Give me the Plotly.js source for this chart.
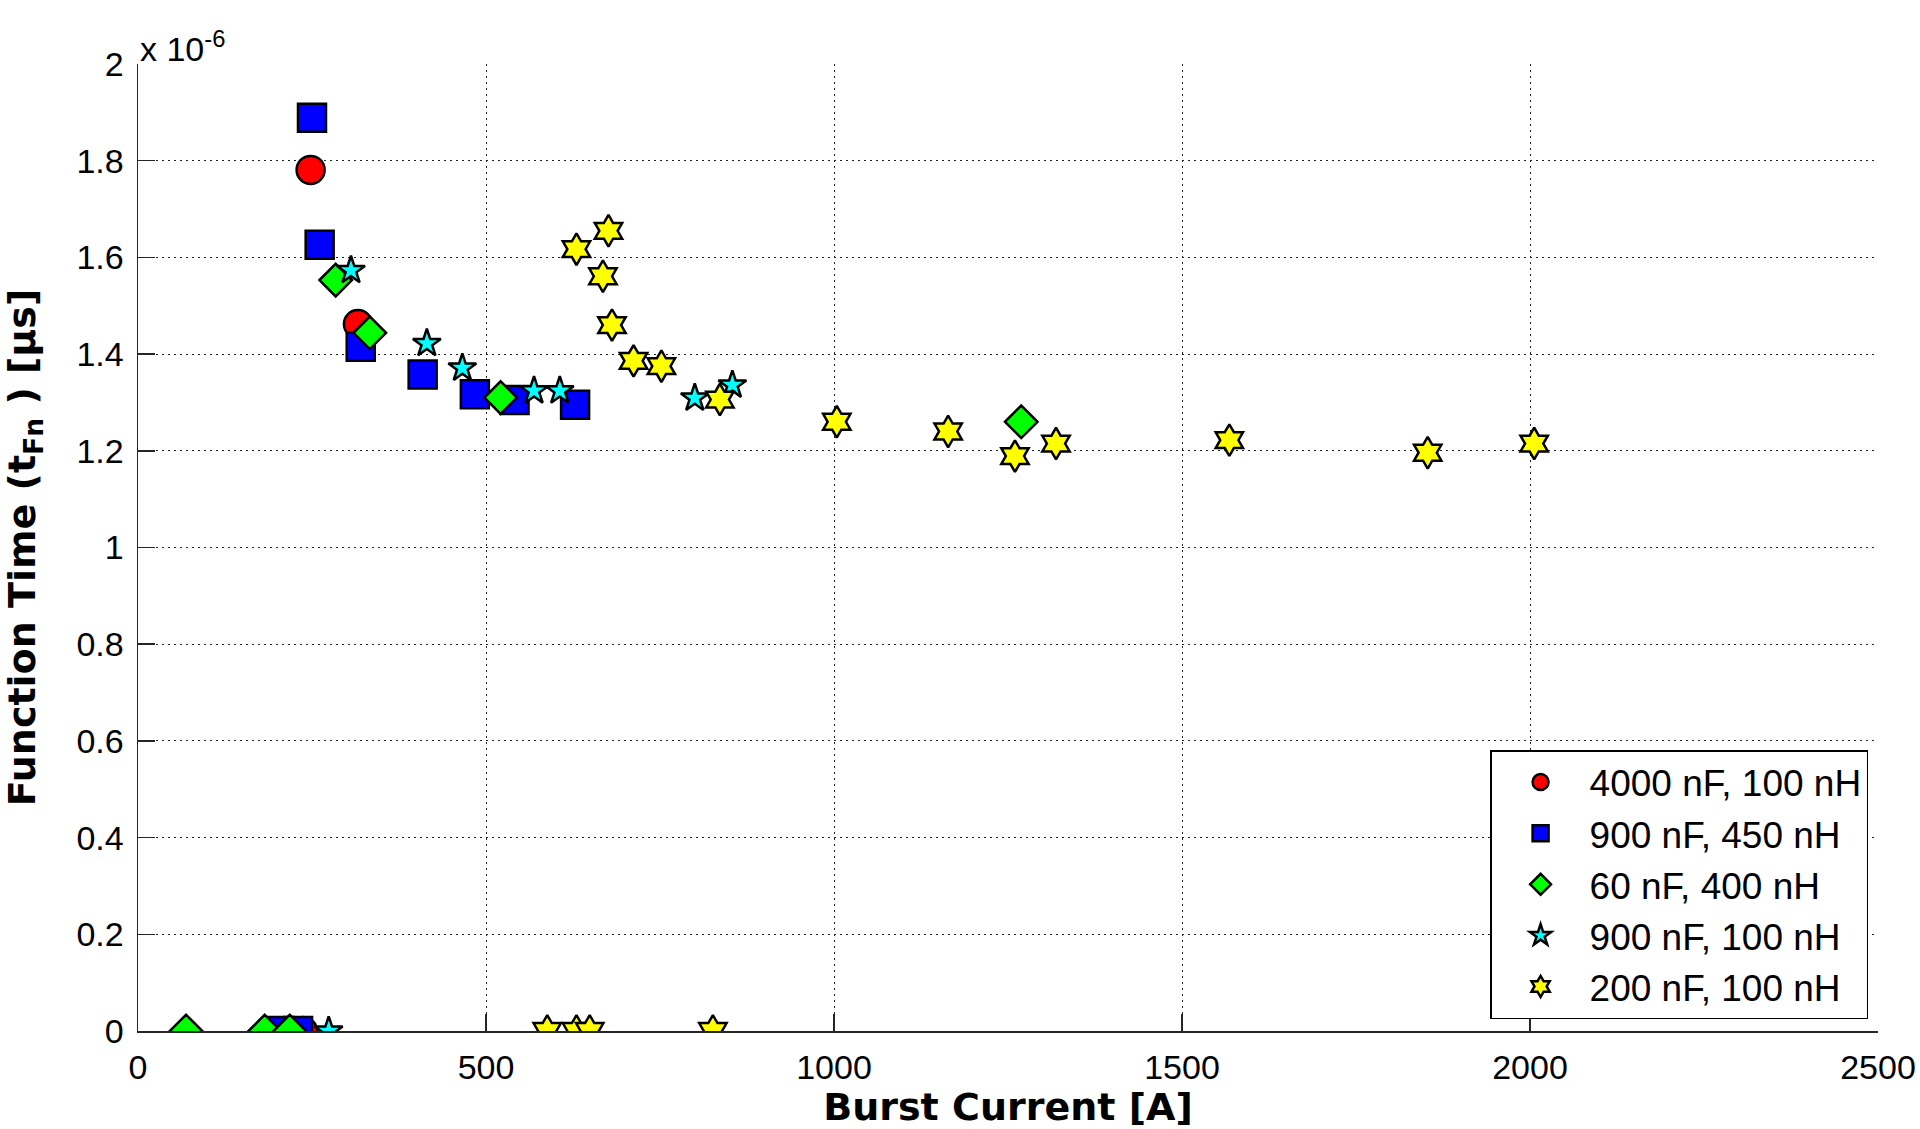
<!DOCTYPE html>
<html>
<head>
<meta charset="utf-8">
<script src="https://cdn.plot.ly/plotly-3.0.1.min.js"></script>
<style>html,body{margin:0;padding:0;background:#fff;}#chart{width:1920px;height:1129px;}</style>
</head>
<body>
<div id="chart"></div>
<script>
// Burst current [A] and function time (values in units of 1e-6 s)
const seriesNames = ["4000 nF, 100 nH", "900 nF, 450 nH", "60 nF, 400 nH", "900 nF, 100 nH", "200 nF, 100 nH"];

const red_x = [248, 316, 237];
const red_y = [1.781, 1.462, 0];

const blue_x = [250, 261, 320, 409, 484, 541, 628, 204, 230];
const blue_y = [1.889, 1.626, 1.415, 1.358, 1.317, 1.305, 1.295, 0, 0];

const green_x = [284, 333, 521, 1269, 69, 182, 218];
const green_y = [1.553, 1.444, 1.310, 1.260, 0, 0, 0];

const cyan_x = [306, 415, 466, 569, 606, 800, 854, 274];
const cyan_y = [1.573, 1.422, 1.371, 1.324, 1.324, 1.309, 1.336, 0];

const yellow_x = [630, 676, 668, 681, 712, 752, 836, 1004, 1164, 1260, 1319, 1568, 1853, 2006, 588, 630, 649, 826];
const yellow_y = [1.617, 1.655, 1.561, 1.460, 1.386, 1.375, 1.306, 1.260, 1.240, 1.189, 1.215, 1.222, 1.196, 1.215, 0, 0, 0, 0];

const xTicks = [0, 500, 1000, 1500, 2000, 2500];
const yTicks = [0, 0.2, 0.4, 0.6, 0.8, 1, 1.2, 1.4, 1.6, 1.8, 2];
const yTickText = ["0", "0.2", "0.4", "0.6", "0.8", "1", "1.2", "1.4", "1.6", "1.8", "2"];

const FONT = "Liberation Sans, Arial, Helvetica, sans-serif";
const BOLD = "DejaVu Sans, Liberation Sans, Arial, sans-serif";

function mk(x, y, name, symbol, color, size) {
  return {
    type: "scatter", mode: "markers", x: x, y: y, name: name,
    marker: {symbol: symbol, color: color, size: size, line: {color: "#000", width: 2.5}},
    cliponaxis: true
  };
}

const traces = [
  mk(red_x, red_y, seriesNames[0], "circle", "#ff0000", 28),
  mk(blue_x, blue_y, seriesNames[1], "square", "#0000ff", 28),
  mk(green_x, green_y, seriesNames[2], "diamond", "#00ff00", 25),
  mk(cyan_x, cyan_y, seriesNames[3], "star", "#00ffff", 21),
  mk(yellow_x, yellow_y, seriesNames[4], "hexagram", "#ffff00", 24)
];

const axisCommon = {
  showline: true, linecolor: "#262626", linewidth: 1.5,
  ticks: "inside", ticklen: 17, tickwidth: 1.5, tickcolor: "#262626",
  showgrid: true, gridcolor: "#222", gridwidth: 1, griddash: "2px,4px",
  zeroline: false, mirror: false,
  tickfont: {family: FONT, size: 34, color: "#000"}
};

const layout = {
  width: 1920, height: 1129,
  margin: {l: 138, r: 42, t: 64, b: 98, pad: 0},
  paper_bgcolor: "#fff", plot_bgcolor: "#fff",
  font: {family: FONT, color: "#000"},
  showlegend: true,
  xaxis: Object.assign({}, axisCommon, {
    range: [0, 2500], tickvals: xTicks, ticktext: xTicks.map(String),
    ticklabelstandoff: 6,
    title: {text: "Burst Current [A]", font: {family: BOLD, size: 38, color: "#000", weight: "bold"}, standoff: 6}
  }),
  yaxis: Object.assign({}, axisCommon, {
    range: [0, 2], tickvals: yTicks, ticktext: yTickText,
    ticklabelstandoff: 6,
    title: {text: "Function Time (t<sub>Fn</sub> ) [µs]", font: {family: BOLD, size: 38, color: "#000", weight: "bold"}, standoff: 42}
  }),
  legend: {
    x: 0.9943, xanchor: "right", y: 0.0124, yanchor: "bottom",
    bgcolor: "#fff", bordercolor: "#000", borderwidth: 1.5,
    font: {family: FONT, size: 37, color: "#000"},
    itemwidth: 88, tracegroupgap: 0
  },
  annotations: [{
    xref: "paper", yref: "paper", x: 0, y: 1, xanchor: "left", yanchor: "bottom",
    text: "x 10<sup>-6</sup>", showarrow: false, yshift: -6,
    font: {family: FONT, size: 34, color: "#000"}
  }]
};

Plotly.newPlot("chart", traces, layout, {displayModeBar: false, staticPlot: true});
</script>
</body>
</html>
